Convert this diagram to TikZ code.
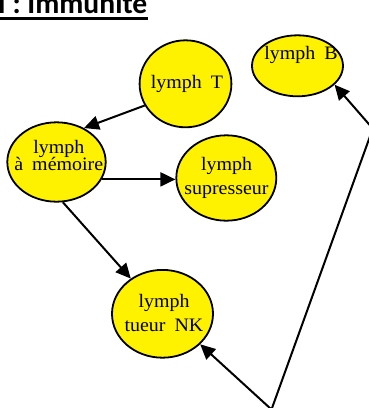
\documentclass[tikz,border=0pt]{standalone}
\usepackage{fontspec}
\setmainfont{Liberation Serif}
\newfontfamily\lymfont[FakeStretch=1.05,WordSpace=1.8]{Liberation Serif}
\newfontfamily\titlefont{Carlito}
\usetikzlibrary{shapes.geometric,arrows.meta,calc}
\begin{document}
\lineskiplimit=-20pt\relax
\begin{tikzpicture}[x=1pt,y=-1pt,
  cell/.style={ellipse,draw=black,fill=yellow,line width=1.8pt,inner sep=0pt},
  lbl/.style={font=\lymfont\fontsize{19}{24.3}\selectfont,align=center,inner sep=0pt},
  tightlbl/.style={lbl,font=\lymfont\fontsize{19}{16.7}\selectfont},
  arr/.style={line width=2pt,line join=round,-{Triangle[length=15pt,width=14pt]}},
  ]
\useasboundingbox (0,0) rectangle (368,408);
% title
\node[font=\titlefont\bfseries\fontsize{29.6}{30}\selectfont,anchor=base west,inner sep=0pt] (title) at (-2.2,13.3) {I : Immunité};
\draw[line width=2.6pt] ($(title.base west)+(2,5.4)$) -- ($(title.base east)+(0.5,5.4)$);
% cells
\node[cell,minimum width=91pt,minimum height=61pt] (B) at (297.5,65.8) {};
\node[cell,minimum width=91.8pt,minimum height=87pt] (T) at (185.5,83.8) {};
\node[cell,minimum width=98.4pt,minimum height=79.4pt] (mem) at (56.5,162) {};
\node[cell,minimum width=100pt,minimum height=85.4pt] (sup) at (226.3,178) {};
\node[cell,minimum width=101pt,minimum height=87.8pt] (NK) at (162.5,313.8) {};
% labels
\node[lbl,anchor=base] (Bt) at (301,59.3) {lymph B};
\node[lbl,anchor=base] (Tt) at (187,88.3) {lymph T};
\node[tightlbl] (memt) at (58.8,155.8) {lymph\\à mémoire};
\node[lbl] (supt) at (226.5,177.6) {lymph\\supresseur};
\node[lbl] (NKt) at (164,312.7) {lymph\\tueur NK};
% connectors
\coordinate (bot) at (271.5,409.5);
\coordinate (corner) at (372.8,128.6);
\draw[arr] (T.208) -- (mem.51);
\draw[arr] (mem.-21) -- (mem.-21 -| sup.west);
\draw[arr] (mem.-81) -- (NK.132);
\draw[arr] (bot) -- (NK.-39.4);
\draw[arr] (bot) -- (corner) -- (B.-27.5);
\end{tikzpicture}
\end{document}
